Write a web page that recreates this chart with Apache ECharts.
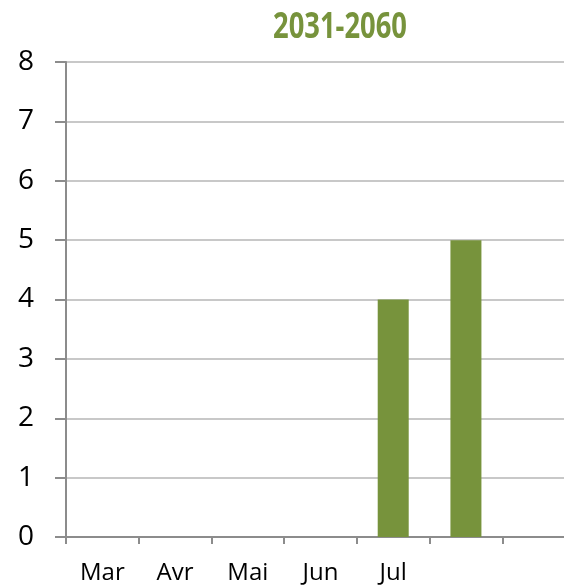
<!DOCTYPE html>
<html>
<head>
<meta charset="utf-8">
<script src="https://cdn.jsdelivr.net/npm/echarts@6/dist/echarts.min.js"></script>
<style>html,body{margin:0;padding:0;background:#fff}#c{width:564px;height:585px}</style>
</head>
<body>
<div id="c"></div>
<script>
const titleText = '2031-2060';
const categories = ['Mar', 'Avr', 'Mai', 'Jun', 'Jul', '', ''];
const values = [0, 0, 0, 0, 4, 5, 0];
const yTicks = [0, 1, 2, 3, 4, 5, 6, 7, 8];

const chart = echarts.init(document.getElementById('c'), null, {renderer: 'canvas'});
chart.setOption({
  animation: false,
  backgroundColor: '#ffffff',
  graphic: [{
    type: 'text',
    x: 340,
    y: 28,
    scaleX: 0.76,
    style: {
      text: titleText,
      align: 'center',
      verticalAlign: 'middle',
      fill: '#77933C',
      fontFamily: '"Open Sans", sans-serif',
      fontWeight: 'bold',
      fontSize: 36
    }
  }],
  grid: {left: 66, top: 62, bottom: 48, width: 509, containLabel: false, outerBoundsMode: 'none'},
  xAxis: {
    type: 'category',
    data: categories,
    boundaryGap: true,
    axisLine: {lineStyle: {color: '#8c8c8c', width: 2}},
    axisTick: {show: true, length: 7, lineStyle: {color: '#8c8c8c', width: 2}},
    axisLabel: {
      interval: 0,
      color: '#000',
      fontSize: 24,
      fontFamily: '"Open Sans", sans-serif',
      margin: 24
    },
    splitLine: {show: false}
  },
  yAxis: {
    type: 'value',
    min: yTicks[0],
    max: yTicks[yTicks.length - 1],
    interval: 1,
    axisLine: {show: true, lineStyle: {color: '#8c8c8c', width: 2}},
    axisTick: {show: true, length: 11, lineStyle: {color: '#8c8c8c', width: 2}},
    axisLabel: {
      color: '#000',
      fontSize: 28,
      fontFamily: '"Open Sans", sans-serif',
      margin: 32
    },
    splitLine: {show: true, lineStyle: {color: '#c8c8c8', width: 2}}
  },
  series: [{
    type: 'bar',
    data: values,
    barWidth: 31,
    itemStyle: {color: '#77933C'}
  }]
});
</script>
</body>
</html>
